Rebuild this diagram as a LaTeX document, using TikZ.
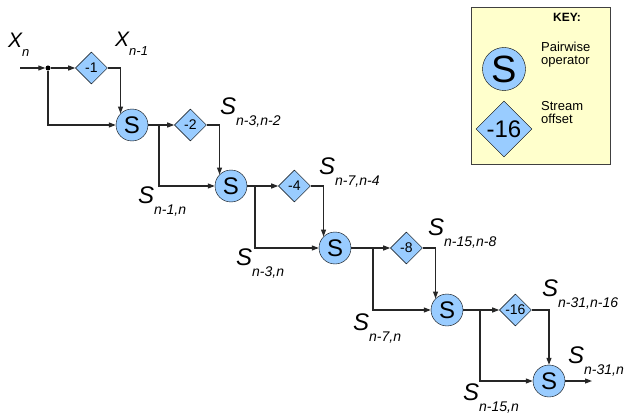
\documentclass[tikz,border=0pt]{standalone}
\usepackage{fontspec}
\setmainfont{Liberation Sans}
\usepackage{xcolor}
\usepackage{tikz}
\usetikzlibrary{arrows.meta, positioning, shapes.geometric}
\definecolor{opblue}{HTML}{99CCFF}
\definecolor{keyyellow}{HTML}{FFFFCC}
\newcommand{\fs}[1]{\fontsize{#1}{#1}\selectfont}
\newcommand{\sig}[2]{{\fs{24}#1}\raisebox{-11pt}{\fs{14}#2}}
\newcommand{\inp}[2]{{\fs{21}#1}\raisebox{-9pt}{\fs{13}#2}}
\tikzset{
  opnode/.style={circle, draw, fill=opblue, inner sep=0pt,
                 minimum size=32pt, font=\fs{24}},
  offnode/.style={diamond, draw, fill=opblue, inner sep=0pt,
                  minimum size=32pt, font=\fs{14}},
  jdot/.style={circle, fill, inner sep=0pt, minimum size=5pt},
  siglbl/.style={anchor=base west, inner sep=0pt, font=\itshape},
  keytxt/.style={anchor=north west, inner sep=0pt, align=left,
                 font=\fs{13}},
  keybox/.style={rectangle, draw=black!75, fill=keyyellow, line width=0.9pt,
                 minimum width=139pt, minimum height=157pt},
  conn/.style={-{Triangle[length=7pt, width=5pt]}, line width=1.1pt,
               draw=black!85},
  wire/.style={line width=1.1pt, draw=black!85}
}

\begin{document}
\begin{tikzpicture}[x=1pt, y=-1pt]
  \useasboundingbox (0,0) rectangle (629,417);

  %% -- Input and first stage --
  \coordinate (in) at (20,68);
  \node[jdot] (j) at (48,68) {};
  \node[offnode, right=24.5pt of j] (d1) {-1};
  \node[opnode] (s1) at (132,125) {S};

  %% -- Operators --
  \node[opnode] (s2) at (231,186) {S};
  \node[opnode] (s3) at (335,248) {S};
  \node[opnode] (s4) at (447,310) {S};
  \node[opnode] (s5) at (549,381) {S};

  %% -- Offsets --
  \node[offnode, right=26pt of s1] (d2) {-2};
  \node[offnode, right=31pt of s2] (d3) {-4};
  \node[offnode, right=39pt of s3] (d4) {-8};
  \node[offnode, right=36pt of s4] (d5) {-16};

  %% -- Branch points and output --
  \coordinate (b1) at (159,125);
  \coordinate (b2) at (255,186);
  \coordinate (b3) at (373,248);
  \coordinate (b4) at (480,310);
  \coordinate (out) at (592,381);

  %% -- Arrows: first stage --
  \draw[conn] (in) -- (j);
  \draw[conn] (j) -- (d1);
  \draw[conn] (d1) -| (s1.north west);
  \draw[conn] (j) |- (s1);

  %% -- Arrows: operator to offset --
  \draw[conn] (s1) -- (d2);
  \draw[conn] (s2) -- (d3);
  \draw[conn] (s3) -- (d4);
  \draw[conn] (s4) -- (d5);

  %% -- Arrows: offset to next operator --
  \draw[conn] (d2) -| (s2.north west);
  \draw[conn] (d3) -| (s3.north west);
  \draw[conn] (d4) -| (s4.north west);
  \draw[conn] (d5) -| (s5.north);

  %% -- Arrows: bypass --
  \draw[conn] (b1) |- (s2);
  \draw[conn] (b2) |- (s3);
  \draw[conn] (b3) |- (s4);
  \draw[conn] (b4) |- (s5);
  \draw[conn] (s5) -- (out);

  %% -- Stream labels --
  \node[siglbl] (xn)   at (8,48)    {\inp{X}{n}};
  \node[siglbl] (xn1)  at (115,47)  {\inp{X}{n-1}};
  \node[siglbl] (l32)  at (220,115) {\sig{S}{n-3,n-2}};
  \node[siglbl] (l10)  at (138,203) {\sig{S}{n-1,n}};
  \node[siglbl] (l74)  at (319,175) {\sig{S}{n-7,n-4}};
  \node[siglbl] (l30)  at (236,265) {\sig{S}{n-3,n}};
  \node[siglbl] (l158) at (428,235) {\sig{S}{n-15,n-8}};
  \node[siglbl] (l70)  at (353,330) {\sig{S}{n-7,n}};
  \node[siglbl] (l3116) at (542,296) {\sig{S}{n-31,n-16}};
  \node[siglbl] (l150) at (463,400) {\sig{S}{n-15,n}};
  \node[siglbl] (l310) at (568,363) {\sig{S}{n-31,n}};

  %% -- Key --
  \node[keybox] (key) at (540.5,85.5) {};
  \node[font=\fs{12}\bfseries, inner sep=0pt] (keyttl) at (567,17) {KEY:};
  \node[opnode, minimum size=43pt, font=\fs{38}] (keyop) at (504,69) {S};
  \node[offnode, minimum size=56pt, font=\fs{24}] (keyoff) at (504,129) {-16};
  \node[keytxt] (keyoptxt) at (541,42) {Pairwise\\operator};
  \node[keytxt] (keyofftxt) at (541,101) {Stream\\offset};
\end{tikzpicture}
\end{document}
